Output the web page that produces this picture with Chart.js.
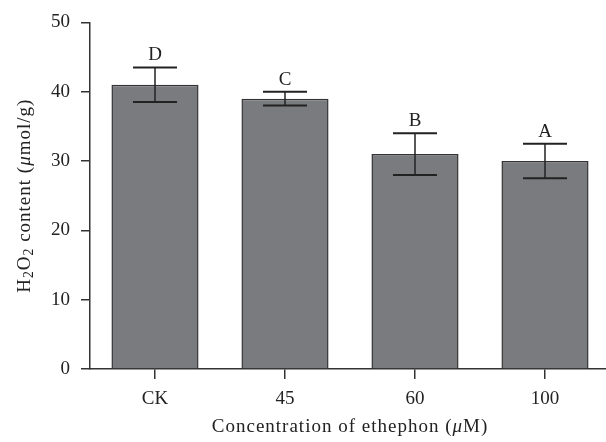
<!DOCTYPE html>
<html>
<head>
<meta charset="utf-8">
<script src="https://cdn.jsdelivr.net/npm/chart.js@4.4.0/dist/chart.umd.min.js"></script>
<style>
  html, body { margin: 0; padding: 0; background: #fff; }
  #wrap { width: 606px; height: 442px; overflow: hidden; }
  #box { width: 612px; height: 442px; }
</style>
</head>
<body>
<div id="wrap"><div id="box"><canvas id="barChart"></canvas></div></div>
<script>
// data
const categories = ["CK", "45", "60", "100"];
const h2o2 = [41, 39, 31, 30];
const errors = [2.5, 1, 3, 2.5];
const letters = ["D", "C", "B", "A"];
const yTicks = [0, 10, 20, 30, 40, 50];

const FONT = "'Liberation Serif', 'DejaVu Serif', serif";
const INK = "#222";

// draws a title made of runs (subscript / italic pieces)
function drawRuns(ctx, runs, size) {
  ctx.letterSpacing = "1px";
  const widths = runs.map((r) => {
    ctx.font = (r.italic ? "italic " : "") + (r.sub ? size * 0.72 : size) + "px " + FONT;
    return ctx.measureText(r.t).width;
  });
  const total = widths.reduce((a, b) => a + b, 0);
  let x = -total / 2;
  runs.forEach((r, i) => {
    ctx.font = (r.italic ? "italic " : "") + (r.sub ? size * 0.72 : size) + "px " + FONT;
    ctx.fillText(r.t, x, r.sub ? size * 0.22 : 0);
    x += widths[i];
  });
  ctx.letterSpacing = "0px";
}

const extras = {
  id: "extras",
  afterDatasetsDraw(chart) {
    const ctx = chart.ctx;
    const x = chart.scales.x;
    const y = chart.scales.y;
    ctx.save();
    ctx.strokeStyle = INK;
    ctx.fillStyle = INK;
    h2o2.forEach((v, i) => {
      const cx = x.getPixelForValue(i);
      const top = y.getPixelForValue(v + errors[i]);
      const bot = y.getPixelForValue(v - errors[i]);
      ctx.lineWidth = 1.5;
      ctx.beginPath();
      ctx.moveTo(cx, top);
      ctx.lineTo(cx, bot);
      ctx.stroke();
      ctx.lineWidth = 2;
      ctx.beginPath();
      ctx.moveTo(cx - 22, top);
      ctx.lineTo(cx + 22, top);
      ctx.moveTo(cx - 22, bot);
      ctx.lineTo(cx + 22, bot);
      ctx.stroke();
      ctx.font = "19px " + FONT;
      ctx.textAlign = "center";
      ctx.textBaseline = "alphabetic";
      ctx.fillText(letters[i], cx, top - 7);
    });

    // axis titles
    ctx.textAlign = "left";
    ctx.textBaseline = "middle";
    ctx.save();
    ctx.translate(25, (y.top + y.bottom) / 2);
    ctx.rotate(-Math.PI / 2);
    drawRuns(ctx, [
      { t: "H" }, { t: "2", sub: true }, { t: "O" }, { t: "2", sub: true },
      { t: " content (" }, { t: "μ", italic: true }, { t: "mol/g)" },
    ], 19);
    ctx.restore();
    ctx.save();
    ctx.translate((x.left + x.right) / 2, 427);
    drawRuns(ctx, [
      { t: "Concentration of ethephon (" }, { t: "μ", italic: true }, { t: "M)" },
    ], 19);
    ctx.restore();
    ctx.restore();
  },
};

new Chart(document.getElementById("barChart"), {
  type: "bar",
  data: {
    labels: categories,
    datasets: [
      {
        data: h2o2,
        backgroundColor: "#7a7b7f",
        borderColor: "#333",
        borderWidth: 1.5,
        categoryPercentage: 1,
        barPercentage: 0.67,
      },
    ],
  },
  options: {
    responsive: true,
    maintainAspectRatio: false,
    animation: false,
    layout: { padding: { top: 22, right: 2, left: 0, bottom: 0 } },
    plugins: {
      legend: { display: false },
      tooltip: { enabled: false },
    },
    scales: {
      x: {
        grid: {
          offset: false,
          drawOnChartArea: false,
          drawTicks: true,
          tickLength: 10,
          color: "#333",
          lineWidth: 1.5,
        },
        border: { display: true, color: "#333", width: 1.5 },
        ticks: { color: INK, font: { family: FONT, size: 19 }, padding: 9 },
        afterFit: (s) => { s.height = 73; },
      },
      y: {
        min: 0,
        max: 50,
        afterBuildTicks: (s) => { s.ticks = yTicks.map((v) => ({ value: v })); },
        grid: {
          drawOnChartArea: false,
          drawTicks: true,
          tickLength: 9,
          color: "#333",
          lineWidth: 1.5,
        },
        border: { display: true, color: "#333", width: 1.5 },
        ticks: { color: INK, font: { family: FONT, size: 19 }, padding: 11 },
        afterFit: (s) => { s.width = 90; },
      },
    },
  },
  plugins: [extras],
});
</script>
</body>
</html>
